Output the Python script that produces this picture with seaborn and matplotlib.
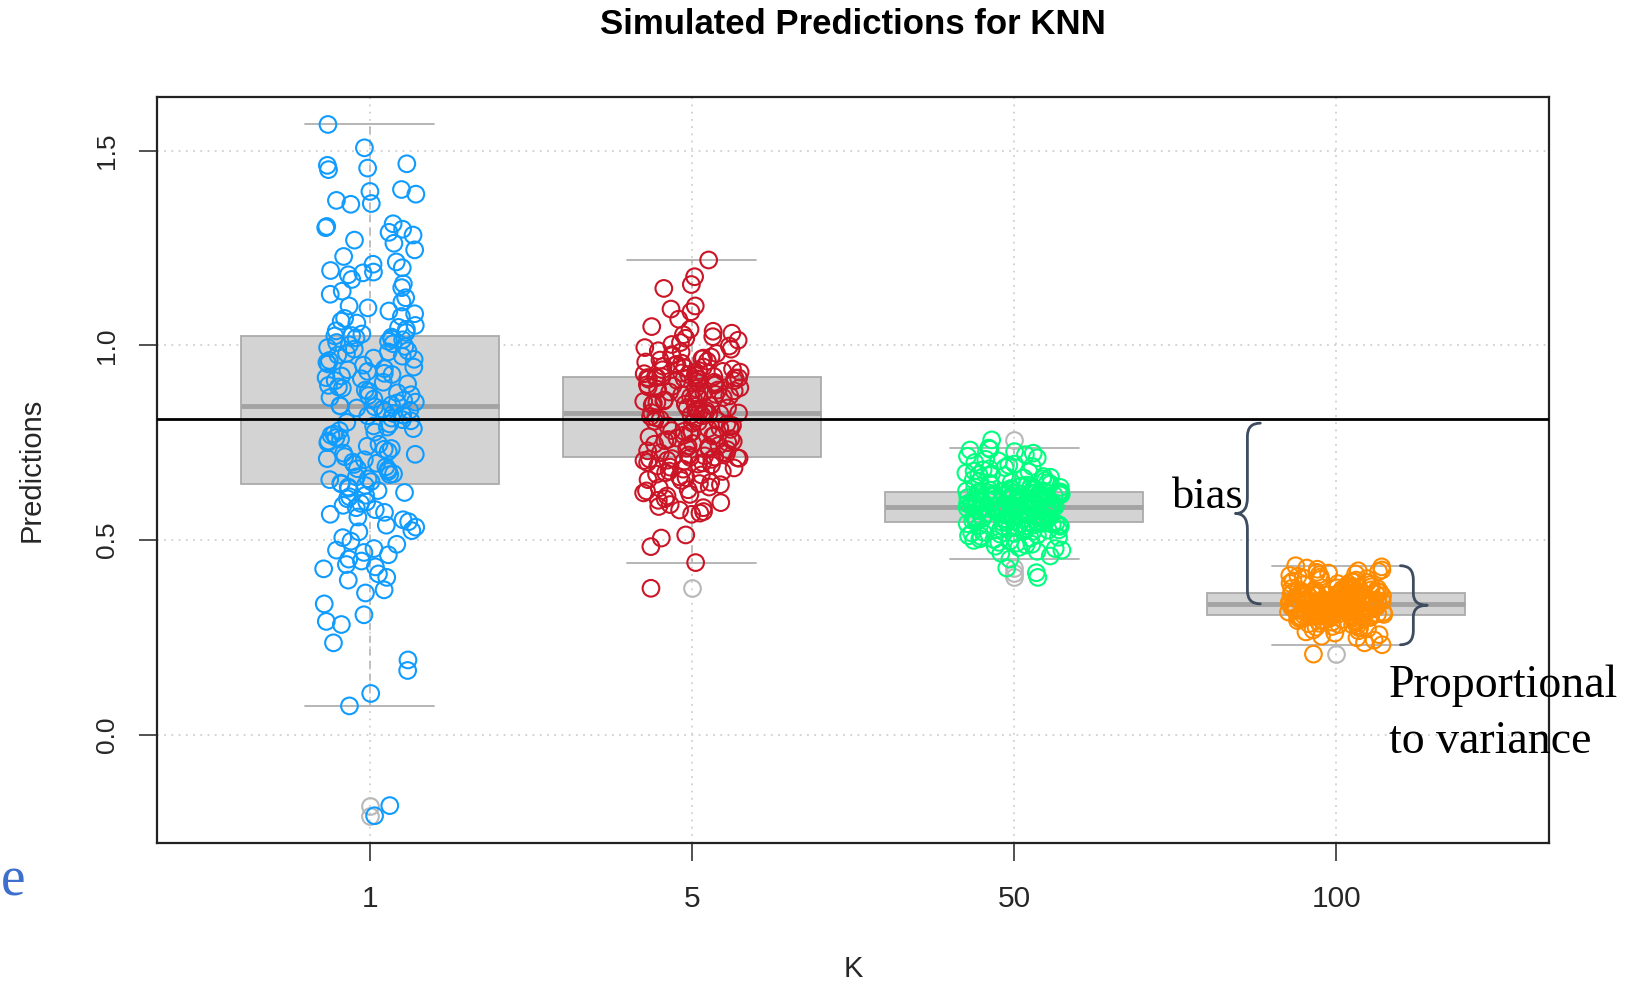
import numpy as np
import pandas as pd
import matplotlib
matplotlib.use("Agg")
import matplotlib.pyplot as plt
from matplotlib.path import Path
from matplotlib.patches import PathPatch
import seaborn as sns

# ---------------------------------------------------------------- data
k_levels = ["1", "5", "50", "100"]
point_colors = ["#109CFF", "#CB1526", "#00FF7F", "#FF8C00"]
true_value = 0.81

pred_k1 = [
    -0.208, -0.182, 0.074, 0.106, 0.165, 0.192, 0.236, 0.283, 0.291, 0.308,
    0.336, 0.364, 0.372, 0.397, 0.404, 0.413, 0.426, 0.431, 0.437, 0.446,
    0.451, 0.462, 0.468, 0.474, 0.478, 0.489, 0.497, 0.506, 0.521, 0.524,
    0.533, 0.538, 0.547, 0.552, 0.559, 0.566, 0.571, 0.578, 0.583, 0.589,
    0.594, 0.598, 0.606, 0.611, 0.615, 0.622, 0.627, 0.633, 0.636, 0.640,
    0.644,
    0.646, 0.650, 0.655, 0.657, 0.662, 0.668, 0.670, 0.676, 0.681, 0.683,
    0.688, 0.694, 0.697, 0.700, 0.706, 0.709, 0.714, 0.720, 0.723, 0.727,
    0.733, 0.735, 0.741, 0.746, 0.750, 0.754, 0.759, 0.763, 0.769, 0.772,
    0.777, 0.781, 0.786, 0.790, 0.793, 0.798, 0.802, 0.806, 0.809, 0.813,
    0.819, 0.821, 0.825, 0.830, 0.833, 0.836, 0.839, 0.842, 0.844,
    0.845,
    0.847, 0.852, 0.854, 0.859, 0.862, 0.866, 0.871, 0.873, 0.878, 0.882,
    0.885, 0.890, 0.893, 0.897, 0.901, 0.905, 0.909, 0.914, 0.917, 0.921,
    0.925, 0.928, 0.933, 0.937, 0.940, 0.944, 0.949, 0.952, 0.956, 0.961,
    0.964, 0.967, 0.972, 0.975, 0.979, 0.983, 0.986, 0.990, 0.994, 0.997,
    1.001, 1.004, 1.007, 1.010, 1.014, 1.016, 1.019, 1.021, 1.024,
    1.025,
    1.029, 1.033, 1.037, 1.041, 1.046, 1.051, 1.057, 1.062, 1.069, 1.074,
    1.081, 1.088, 1.096, 1.101, 1.111, 1.122, 1.131, 1.139, 1.148, 1.158,
    1.169, 1.181, 1.186, 1.188, 1.192, 1.199, 1.208, 1.214, 1.228, 1.245,
    1.262, 1.270, 1.283, 1.290, 1.298, 1.302, 1.305, 1.312, 1.362, 1.364,
    1.372, 1.388, 1.395, 1.400, 1.451, 1.455, 1.462, 1.466, 1.507, 1.567,
]

pred_k5 = [
    0.376, 0.442, 0.483, 0.505, 0.513, 0.566, 0.569, 0.573, 0.577, 0.583,
    0.586, 0.591, 0.596, 0.602, 0.606, 0.613, 0.617, 0.621, 0.626, 0.629,
    0.634, 0.636, 0.642, 0.645, 0.648, 0.653, 0.655, 0.660, 0.662, 0.667,
    0.669, 0.673, 0.676, 0.677, 0.682, 0.685, 0.687, 0.690, 0.693, 0.695,
    0.698, 0.699, 0.702, 0.704, 0.705, 0.707, 0.708, 0.709, 0.710, 0.711,
    0.712,
    0.713, 0.716, 0.718, 0.722, 0.724, 0.725, 0.729, 0.732, 0.734, 0.736,
    0.739, 0.741, 0.743, 0.746, 0.748, 0.750, 0.753, 0.755, 0.758, 0.760,
    0.762, 0.765, 0.767, 0.769, 0.770, 0.774, 0.777, 0.779, 0.781, 0.784,
    0.786, 0.788, 0.791, 0.793, 0.794, 0.798, 0.800, 0.803, 0.805, 0.807,
    0.810, 0.812, 0.814, 0.817, 0.819, 0.821, 0.823, 0.824, 0.826,
    0.827,
    0.828, 0.830, 0.832, 0.834, 0.836, 0.839, 0.840, 0.843, 0.845, 0.847,
    0.849, 0.851, 0.853, 0.856, 0.857, 0.860, 0.862, 0.864, 0.866, 0.868,
    0.870, 0.873, 0.874, 0.876, 0.879, 0.880, 0.883, 0.885, 0.887, 0.889,
    0.891, 0.893, 0.895, 0.898, 0.899, 0.901, 0.903, 0.905, 0.907, 0.909,
    0.910, 0.912, 0.913, 0.914, 0.915, 0.916, 0.916, 0.917, 0.917,
    0.918,
    0.919, 0.920, 0.922, 0.924, 0.925, 0.927, 0.929, 0.931, 0.933, 0.935,
    0.937, 0.939, 0.942, 0.944, 0.946, 0.949, 0.951, 0.954, 0.957, 0.959,
    0.962, 0.965, 0.967, 0.970, 0.973, 0.976, 0.979, 0.983, 0.986, 0.990,
    0.994, 0.998, 1.002, 1.007, 1.013, 1.018, 1.022, 1.027, 1.031, 1.036,
    1.041, 1.048, 1.067, 1.086, 1.093, 1.101, 1.146, 1.156, 1.176, 1.219,
]

pred_k50 = [
    0.404, 0.416, 0.428, 0.451, 0.459, 0.466, 0.471, 0.474, 0.478, 0.481,
    0.484, 0.487, 0.489, 0.492, 0.494, 0.497, 0.499, 0.501, 0.503, 0.505,
    0.507, 0.509, 0.511, 0.513, 0.515, 0.517, 0.518, 0.520, 0.522, 0.523,
    0.525, 0.526, 0.528, 0.529, 0.531, 0.532, 0.533, 0.535, 0.536, 0.537,
    0.538, 0.539, 0.540, 0.541, 0.542, 0.543, 0.543, 0.544, 0.545, 0.545,
    0.546,
    0.547, 0.547, 0.549, 0.550, 0.551, 0.553, 0.553, 0.555, 0.556, 0.557,
    0.558, 0.560, 0.560, 0.562, 0.563, 0.564, 0.565, 0.566, 0.568, 0.568,
    0.569, 0.570, 0.572, 0.572, 0.574, 0.574, 0.575, 0.576, 0.577, 0.578,
    0.578, 0.579, 0.580, 0.581, 0.581, 0.582, 0.582, 0.583, 0.583, 0.584,
    0.584, 0.584, 0.585, 0.585, 0.585, 0.585, 0.586, 0.586, 0.586,
    0.586,
    0.587, 0.588, 0.589, 0.590, 0.590, 0.591, 0.592, 0.593, 0.594, 0.595,
    0.596, 0.596, 0.597, 0.598, 0.599, 0.600, 0.601, 0.602, 0.603, 0.603,
    0.604, 0.605, 0.606, 0.607, 0.608, 0.608, 0.609, 0.610, 0.611, 0.612,
    0.613, 0.613, 0.614, 0.615, 0.616, 0.617, 0.617, 0.618, 0.619, 0.619,
    0.620, 0.620, 0.621, 0.621, 0.622, 0.622, 0.622, 0.623, 0.623,
    0.623,
    0.624, 0.625, 0.626, 0.627, 0.628, 0.629, 0.631, 0.632, 0.633, 0.635,
    0.636, 0.638, 0.639, 0.641, 0.642, 0.644, 0.646, 0.647, 0.649, 0.651,
    0.653, 0.655, 0.657, 0.659, 0.661, 0.663, 0.665, 0.668, 0.670, 0.672,
    0.675, 0.677, 0.680, 0.683, 0.686, 0.689, 0.692, 0.695, 0.699, 0.703,
    0.707, 0.711, 0.715, 0.719, 0.723, 0.727, 0.731, 0.733, 0.736, 0.757,
]

pred_k100 = [
    0.207, 0.231, 0.236, 0.243, 0.249, 0.253, 0.257, 0.261, 0.264, 0.267,
    0.269, 0.272, 0.274, 0.276, 0.278, 0.280, 0.282, 0.283, 0.285, 0.286,
    0.288, 0.289, 0.290, 0.291, 0.292, 0.293, 0.294, 0.295, 0.296, 0.297,
    0.298, 0.298, 0.299, 0.300, 0.300, 0.301, 0.302, 0.302, 0.303, 0.303,
    0.304, 0.304, 0.305, 0.305, 0.306, 0.306, 0.306, 0.307, 0.307, 0.307,
    0.308,
    0.309, 0.309, 0.310, 0.311, 0.311, 0.312, 0.313, 0.313, 0.314, 0.315,
    0.315, 0.316, 0.317, 0.317, 0.318, 0.319, 0.319, 0.320, 0.321, 0.321,
    0.322, 0.323, 0.323, 0.324, 0.325, 0.325, 0.326, 0.327, 0.327, 0.328,
    0.329, 0.329, 0.330, 0.330, 0.331, 0.331, 0.332, 0.332, 0.333, 0.333,
    0.334, 0.334, 0.334, 0.335, 0.335, 0.335, 0.336, 0.336, 0.336,
    0.336,
    0.337, 0.337, 0.338, 0.339, 0.339, 0.340, 0.341, 0.341, 0.342, 0.343,
    0.343, 0.344, 0.345, 0.345, 0.346, 0.347, 0.347, 0.348, 0.349, 0.349,
    0.350, 0.351, 0.351, 0.352, 0.353, 0.353, 0.354, 0.355, 0.355, 0.356,
    0.356, 0.357, 0.357, 0.358, 0.358, 0.359, 0.359, 0.360, 0.360, 0.361,
    0.361, 0.361, 0.362, 0.362, 0.362, 0.363, 0.363, 0.363, 0.363,
    0.363,
    0.364, 0.364, 0.365, 0.366, 0.366, 0.367, 0.368, 0.368, 0.369, 0.370,
    0.371, 0.372, 0.372, 0.373, 0.374, 0.375, 0.376, 0.377, 0.378, 0.379,
    0.380, 0.381, 0.382, 0.384, 0.385, 0.386, 0.388, 0.389, 0.391, 0.392,
    0.394, 0.395, 0.397, 0.399, 0.401, 0.403, 0.405, 0.407, 0.409, 0.411,
    0.413, 0.415, 0.417, 0.419, 0.421, 0.423, 0.425, 0.428, 0.431, 0.434,
]

y_ticks = [0.0, 0.5, 1.0, 1.5]
y_tick_labels = ["0.0", "0.5", "1.0", "1.5"]

groups = {"1": pred_k1, "5": pred_k5, "50": pred_k50, "100": pred_k100}
df = pd.DataFrame(
    [(k, v) for k, vals in groups.items() for v in vals],
    columns=["K", "Predictions"],
)

# ---------------------------------------------------------------- style
sns.set_theme(style="white")
plt.rcParams["font.family"] = ["Liberation Sans", "DejaVu Sans"]
SERIF = ["Liberation Serif", "DejaVu Serif"]
BOX_LINE = "#ABABAB"
GRID_KW = dict(color="#D0D0D0", linestyle=(0, (1, 3)), linewidth=1.3)
MARKER_SIZE = 12.0
MARKER_EDGE = 1.5

W, H = 1639, 984
fig = plt.figure(figsize=(W / 100, H / 100), dpi=100, facecolor="white")
ax = fig.add_axes([157 / W, 1 - 843 / H, (1549 - 157) / W, (843 - 97) / H])
ax.set_facecolor("white")
ax.set_axisbelow(True)

# boxes
sns.boxplot(
    data=df, x="K", y="Predictions", order=k_levels,
    color="#D3D3D3", saturation=1, width=0.8, whis=1.5,
    linecolor=BOX_LINE, linewidth=1.3,
    flierprops=dict(marker="o", markerfacecolor="none",
                    markeredgecolor="#B8B8B8", markersize=MARKER_SIZE,
                    markeredgewidth=MARKER_EDGE),
    whiskerprops=dict(linestyle=(0, (4, 3)), color="#BBBBBB"),
    capprops=dict(color="#B0B0B0"),
    medianprops=dict(color="#A3A3A3", linewidth=3.5),
    ax=ax,
)

# jittered open-circle points
np.random.seed(3)
n_before = len(ax.collections)
sns.stripplot(
    data=df, x="K", y="Predictions", order=k_levels,
    hue="K", hue_order=k_levels, palette=point_colors,
    jitter=0.15, size=MARKER_SIZE, linewidth=MARKER_EDGE, legend=False,
    zorder=3, ax=ax,
)
for coll in ax.collections[n_before:]:
    fc = coll.get_facecolor()
    coll.set_edgecolor(fc)
    coll.set_facecolor("none")

# true value
ax.axhline(true_value, color="black", linewidth=2.0, zorder=4)

# dotted grid on both axes (under the boxes)
ax.xaxis.grid(True, **GRID_KW)
ax.yaxis.grid(True, **GRID_KW)

# axes
ax.set_xlim(-0.66, 3.66)
ax.set_ylim(-0.278, 1.6375)
ax.set_yticks(y_ticks)
ax.set_yticklabels(y_tick_labels, rotation=90, va="center")
for sp in ax.spines.values():
    sp.set_color("#222222")
    sp.set_linewidth(1.6)
ax.tick_params(axis="x", direction="out", length=13, width=1.2,
               color="#333333", labelsize=21.5, pad=17, bottom=True)
ax.tick_params(axis="y", direction="out", length=13, width=1.2,
               color="#333333", labelsize=19, pad=14.5, left=True)

ax.set_xlabel("K", fontsize=21)
ax.set_ylabel("Predictions", fontsize=21)
ax.xaxis.set_label_coords(0.5, (843 - 969) / 746)
ax.yaxis.set_label_coords((31.5 - 157) / 1392, 0.5)
ax.xaxis.label.set_va("center")
ax.yaxis.label.set_va("center")

fig.text(853 / W, 1 - 24 / H, "Simulated Predictions for KNN",
         fontsize=25, fontweight="bold", ha="center", va="center",
         color="black")


# ---------------------------------------------------------------- braces
def curly_brace(x_spine, x_end, x_tip, y_bot, y_top, r_end, r_tip, color):
    y_tip = (y_bot + y_top) / 2
    verts = [
        (x_end, y_top),
        (x_spine, y_top), (x_spine, y_top - r_end),
        (x_spine, y_tip + r_tip),
        (x_spine, y_tip), (x_tip, y_tip),
        (x_spine, y_tip), (x_spine, y_tip - r_tip),
        (x_spine, y_bot + r_end),
        (x_spine, y_bot), (x_end, y_bot),
    ]
    codes = [Path.MOVETO, Path.CURVE3, Path.CURVE3, Path.LINETO,
             Path.CURVE3, Path.CURVE3, Path.CURVE3, Path.CURVE3,
             Path.LINETO, Path.CURVE3, Path.CURVE3]
    ax.add_patch(PathPatch(Path(verts, codes), facecolor="none",
                           edgecolor=color, linewidth=2.0,
                           capstyle="round", joinstyle="round",
                           clip_on=False, zorder=5))


brace_color = "#3E4C60"
k100 = np.asarray(pred_k100)
q1, q3 = np.percentile(k100, [25, 75])
lo_whisk = k100[k100 >= q1 - 1.5 * (q3 - q1)].min()
hi_whisk = k100[k100 <= q3 + 1.5 * (q3 - q1)].max()

# bias: distance between the true value and the K=100 median
curly_brace(2.724, 2.764, 2.687, np.median(k100), true_value - 0.01,
            0.034, 0.04, brace_color)
# spread of the K=100 predictions
curly_brace(3.239, 3.199, 3.282, lo_whisk, hi_whisk, 0.036, 0.03,
            brace_color)

fig.text(1172 / W, 1 - 508 / H, "bias", family=SERIF, fontsize=32,
         ha="left", va="baseline", color="black")
fig.text(1389 / W, 1 - 697 / H, "Proportional", family=SERIF, fontsize=33,
         ha="left", va="baseline", color="black")
fig.text(1389 / W, 1 - 753 / H, "to variance", family=SERIF, fontsize=33,
         ha="left", va="baseline", color="black")
fig.text(1 / W, 1 - 895 / H, "e", family=SERIF, fontsize=40,
         ha="left", va="baseline", color="#3F6FCC")

fig.savefig("out.png", dpi=100, facecolor="white")
